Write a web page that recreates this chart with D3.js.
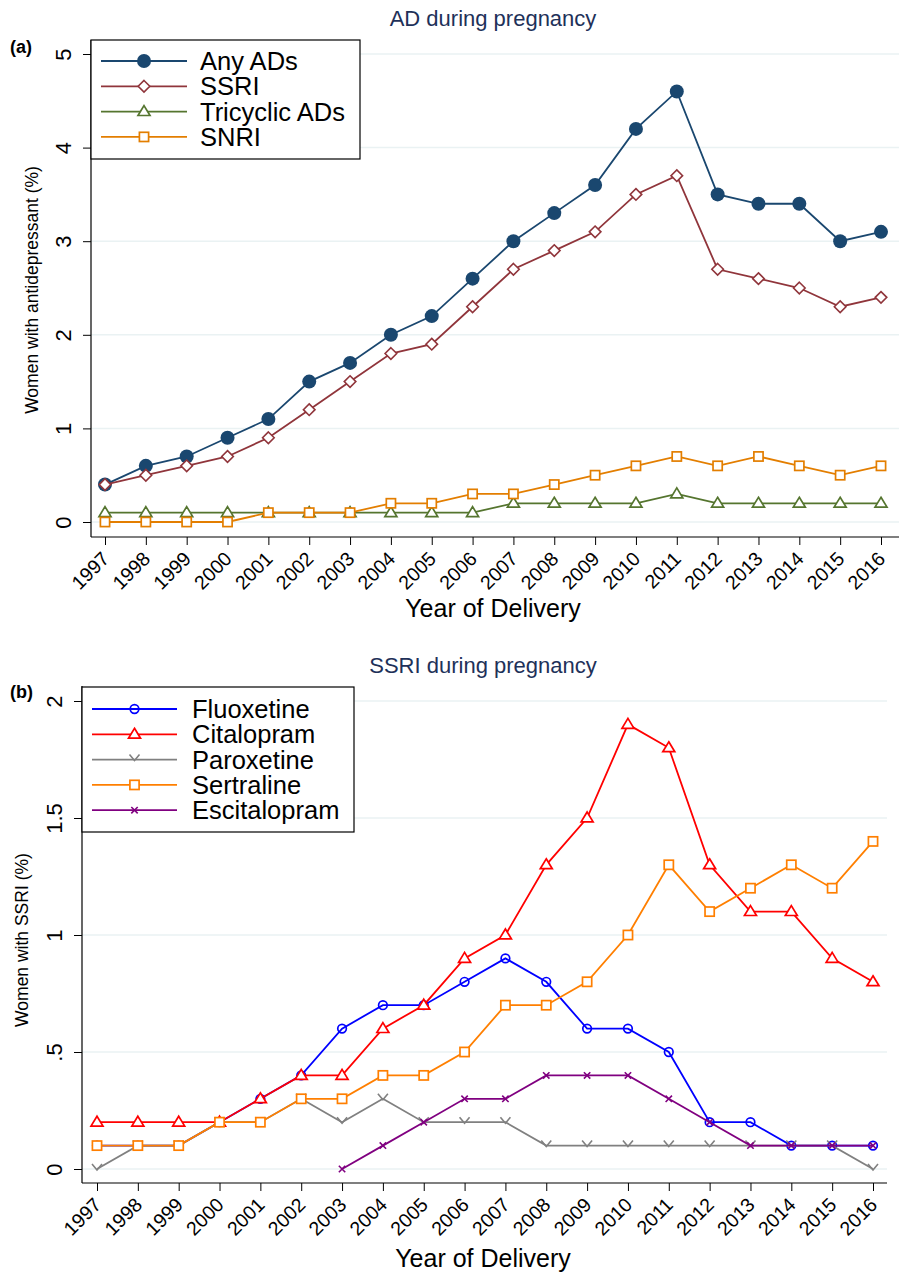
<!DOCTYPE html>
<html><head><meta charset="utf-8">
<script src="https://cdn.jsdelivr.net/npm/d3@7/dist/d3.min.js"></script>
<style>body{margin:0;background:#fff}svg{display:block}text{font-family:"Liberation Sans",Arial,sans-serif}</style>
</head><body>
<svg id="c" width="899" height="1274"></svg>
<script>
const years = [1997,1998,1999,2000,2001,2002,2003,2004,2005,2006,2007,2008,2009,2010,2011,2012,2013,2014,2015,2016];
// Panel (a)
const anyADs     = [0.4,0.6,0.7,0.9,1.1,1.5,1.7,2.0,2.2,2.6,3.0,3.3,3.6,4.2,4.6,3.5,3.4,3.4,3.0,3.1];
const ssri       = [0.4,0.5,0.6,0.7,0.9,1.2,1.5,1.8,1.9,2.3,2.7,2.9,3.1,3.5,3.7,2.7,2.6,2.5,2.3,2.4];
const tricyclic  = [0.1,0.1,0.1,0.1,0.1,0.1,0.1,0.1,0.1,0.1,0.2,0.2,0.2,0.2,0.3,0.2,0.2,0.2,0.2,0.2];
const snri       = [0,0,0,0,0.1,0.1,0.1,0.2,0.2,0.3,0.3,0.4,0.5,0.6,0.7,0.6,0.7,0.6,0.5,0.6];
const ticksA = [0,1,2,3,4,5];
const tickLabelsA = ["0","1","2","3","4","5"];
// Panel (b)
const fluoxetine  = [0.1,0.1,0.1,0.2,0.3,0.4,0.6,0.7,0.7,0.8,0.9,0.8,0.6,0.6,0.5,0.2,0.2,0.1,0.1,0.1];
const citalopram  = [0.2,0.2,0.2,0.2,0.3,0.4,0.4,0.6,0.7,0.9,1.0,1.3,1.5,1.9,1.8,1.3,1.1,1.1,0.9,0.8];
const paroxetine  = [0,0.1,0.1,0.2,0.2,0.3,0.2,0.3,0.2,0.2,0.2,0.1,0.1,0.1,0.1,0.1,0.1,0.1,0.1,0];
const sertraline  = [0.1,0.1,0.1,0.2,0.2,0.3,0.3,0.4,0.4,0.5,0.7,0.7,0.8,1.0,1.3,1.1,1.2,1.3,1.2,1.4];
const escitalopram= [null,null,null,null,null,null,0,0.1,0.2,0.3,0.3,0.4,0.4,0.4,0.3,0.2,0.1,0.1,0.1,0.1];
const ticksB = [0,0.5,1,1.5,2];
const tickLabelsB = ["0",".5","1","1.5","2"];

const svg = d3.select("#c");

function marker(g, type, x, y, color){
  if(type==="dot"){ g.append("circle").attr("cx",x).attr("cy",y).attr("r",7).attr("fill",color); }
  else if(type==="diamond"){ const s=5.8; g.append("path").attr("d",`M${x},${y-s}L${x+s},${y}L${x},${y+s}L${x-s},${y}Z`).attr("fill","#fff").attr("stroke",color).attr("stroke-width",1.6); }
  else if(type==="tri"){ const s=6; g.append("path").attr("d",`M${x},${y-s}L${x+s},${y+s*0.65}L${x-s},${y+s*0.65}Z`).attr("fill","#fff").attr("stroke",color).attr("stroke-width",1.7); }
  else if(type==="square"){ const s=4.6; g.append("rect").attr("x",x-s).attr("y",y-s).attr("width",2*s).attr("height",2*s).attr("fill","#fff").attr("stroke",color).attr("stroke-width",1.7); }
  else if(type==="circle"){ g.append("circle").attr("cx",x).attr("cy",y).attr("r",4.3).attr("fill","none").attr("stroke",color).attr("stroke-width",1.7); }
  else if(type==="v"){ g.append("path").attr("d",`M${x-5},${y-5}L${x},${y+1}L${x+5},${y-5}`).attr("fill","none").attr("stroke",color).attr("stroke-width",1.6); }
  else if(type==="x"){ const s=3.2; g.append("path").attr("d",`M${x-s},${y-s}L${x+s},${y+s}M${x-s},${y+s}L${x+s},${y-s}`).attr("fill","none").attr("stroke",color).attr("stroke-width",1.6); }
}

function panel(cfg){
  const g = svg.append("g");
  const x = d3.scaleLinear().domain([1997,2016]).range(cfg.xr);
  const y = d3.scaleLinear().domain(cfg.yd).range(cfg.yr);
  // grid
  g.selectAll(".grid").data(cfg.ticks).join("line")
    .attr("x1",cfg.left).attr("x2",cfg.right).attr("y1",d=>y(d)).attr("y2",d=>y(d))
    .attr("stroke","#eaf2f3").attr("stroke-width",1.5);
  // y axis
  const ya = d3.axisLeft(y).tickValues(cfg.ticks).tickFormat((d,i)=>cfg.tickLabels[i]).tickSize(8).tickSizeOuter(0);
  const yg = g.append("g").attr("transform",`translate(${cfg.left},0)`).call(ya);
  yg.select(".domain").attr("d",`M0,${cfg.top}V${cfg.bottom}`).attr("stroke","#000").attr("stroke-width",1.2);
  yg.selectAll(".tick line").attr("stroke","#000");
  yg.selectAll(".tick text").attr("font-size",22).attr("fill","#000")
    .attr("text-anchor","middle").attr("x",null).attr("y",null).attr("dy","0em")
    .attr("transform","translate(-20,0) rotate(-90)");
  // x axis
  const xa = d3.axisBottom(x).tickValues(years).tickFormat(d3.format("d")).tickSize(8).tickSizeOuter(0);
  const xg = g.append("g").attr("transform",`translate(0,${cfg.bottom})`).call(xa);
  xg.select(".domain").attr("d",`M${cfg.left},0H${cfg.right}`).attr("stroke","#000").attr("stroke-width",1.2);
  xg.selectAll(".tick line").attr("stroke","#000");
  xg.selectAll(".tick text").attr("font-size",19.5).attr("fill","#000")
    .attr("text-anchor","end").attr("y",null).attr("dy",null)
    .attr("transform","translate(5,23) rotate(-45)");
  // titles
  g.append("text").attr("x",cfg.titleX).attr("y",cfg.titleY).attr("text-anchor","middle")
    .attr("font-size",22).attr("fill","#1e3159").text(cfg.title);
  g.append("text").attr("x",10).attr("y",cfg.labY).attr("font-size",18).attr("font-weight","bold").text(cfg.lab);
  g.append("text").attr("transform",`translate(${cfg.ytX},${cfg.ytY}) rotate(-90)`).attr("text-anchor","middle")
    .attr("font-size",17.5).text(cfg.ytitle);
  g.append("text").attr("x",cfg.titleX).attr("y",cfg.xtY).attr("text-anchor","middle")
    .attr("font-size",25).text("Year of Delivery");
  // series
  const line = d3.line().defined(d=>d[1]!==null).x(d=>x(d[0])).y(d=>y(d[1]));
  cfg.series.forEach(s=>{
    const pts = years.map((yr,i)=>[yr,s.values[i]]);
    g.append("path").attr("d",line(pts)).attr("fill","none").attr("stroke",s.color).attr("stroke-width",1.8);
    pts.filter(p=>p[1]!==null).forEach(p=>marker(g,s.marker,x(p[0]),y(p[1]),s.color));
  });
  // legend
  const L = cfg.legend;
  g.append("rect").attr("x",L.x).attr("y",L.y).attr("width",L.w).attr("height",L.h)
    .attr("fill","#fff").attr("stroke","#000").attr("stroke-width",1.2);
  cfg.series.forEach((s,i)=>{
    const yy = L.y + L.first + i*L.step;
    g.append("line").attr("x1",L.x+L.l1).attr("x2",L.x+L.l2).attr("y1",yy).attr("y2",yy).attr("stroke",s.color).attr("stroke-width",1.8);
    marker(g,s.marker,L.x+(L.l1+L.l2)/2,yy,s.color);
    g.append("text").attr("x",L.x+L.tx).attr("y",yy+9).attr("font-size",L.fs).text(s.name);
  });
}

panel({
  xr:[105,881], yd:[0,5], yr:[522,54], left:91, right:899, top:40, bottom:537,
  ticks:ticksA, tickLabels:tickLabelsA,
  title:"AD during pregnancy", titleX:493, titleY:26, lab:"(a)", labY:53,
  ytitle:"Women with antidepressant (%)", ytX:38, ytY:290, xtY:617,
  series:[
    {name:"Any ADs", values:anyADs, color:"#1a476f", marker:"dot"},
    {name:"SSRI", values:ssri, color:"#90353b", marker:"diamond"},
    {name:"Tricyclic ADs", values:tricyclic, color:"#55752f", marker:"tri"},
    {name:"SNRI", values:snri, color:"#e37e00", marker:"square"}
  ],
  legend:{x:91,y:40,w:269,h:119,first:21,step:25.3,l1:10,l2:96,tx:109,fs:25.5}
});

panel({
  xr:[97,873], yd:[0,2], yr:[1169,701], left:82, right:887, top:686, bottom:1183,
  ticks:ticksB, tickLabels:tickLabelsB,
  title:"SSRI during pregnancy", titleX:483, titleY:673, lab:"(b)", labY:698,
  ytitle:"Women with SSRI (%)", ytX:28, ytY:940, xtY:1267,
  series:[
    {name:"Fluoxetine", values:fluoxetine, color:"#0000ff", marker:"circle"},
    {name:"Citalopram", values:citalopram, color:"#ff0000", marker:"tri"},
    {name:"Paroxetine", values:paroxetine, color:"#808080", marker:"v"},
    {name:"Sertraline", values:sertraline, color:"#ff7f00", marker:"square"},
    {name:"Escitalopram", values:escitalopram, color:"#800080", marker:"x"}
  ],
  legend:{x:82,y:687,w:272,h:145,first:22,step:25.3,l1:10,l2:95,tx:110,fs:25.5}
});
</script>
</body></html>
